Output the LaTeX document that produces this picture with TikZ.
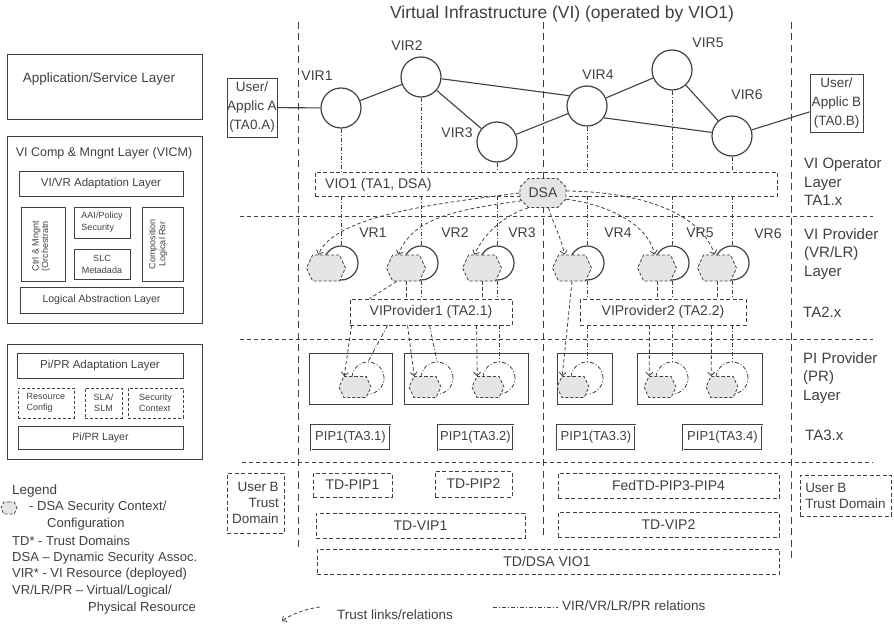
\documentclass[tikz,border=0pt]{standalone}
\usepackage{fontspec}
\setmainfont{Liberation Sans}
\usetikzlibrary{arrows.meta,shapes.misc,shapes.symbols}
\definecolor{ink}{gray}{0.25}
\definecolor{hexfill}{gray}{0.9}
\tikzset{
  every node/.style={text=ink, inner sep=0pt},
  fnt/.style 2 args={font=\fontsize{#1pt}{#2pt}\selectfont},
  box/.style={draw=ink, line width=1pt, align=center},
  dbox/.style={draw=ink, line width=0.9pt, dash pattern=on 4pt off 2.5pt, align=center},
  sdbox/.style={draw=ink, line width=0.9pt, dash pattern=on 3pt off 2pt, align=center},
  pipbox/.style={draw=ink, double=white, double distance=1pt, line width=0.9pt, align=center},
  vsep/.style={draw=ink, line width=0.9pt, dash pattern=on 7pt off 4.5pt},
  hsep/.style={draw=ink, line width=0.9pt, dash pattern=on 4pt off 3pt},
  trust/.style={draw=ink, line width=0.8pt, dash pattern=on 3.5pt off 2.5pt},
  tarr/.style={trust, -{Straight Barb[length=3.5pt,width=7pt]}},
  rel/.style={draw=ink, line width=0.8pt, dash pattern=on 4pt off 2pt on 1pt off 2pt},
  link/.style={draw=ink, line width=1.1pt},
  vir/.style={circle, draw=ink, line width=1.2pt, minimum size=40pt},
  vrc/.style={circle, draw=ink, line width=1.2pt, minimum size=34pt},
  prc/.style={circle, rel, minimum size=32pt},
  hexn/.style={signal, signal to=east and west, signal pointer angle=130, draw=ink, fill=hexfill, line width=0.8pt, dash pattern=on 3pt off 2pt},
  vrhex/.style={hexn, minimum width=39pt, minimum height=26pt},
  prhex/.style={hexn, minimum width=32pt, minimum height=21pt},
  lab/.style={fnt={14}{16}},
  side/.style={fnt={15}{18.5}, align=left, anchor=west},
}
\begin{document}
\begin{tikzpicture}[x=1pt,y=-1pt]
\useasboundingbox (0,0) rectangle (894,626);

% ---------------- left panel ----------------
\node[box, minimum width=195pt, minimum height=64pt] (appl) at (104.5,87) {};
\node[fnt={13.5}{16}] (applt) at (99,79) {Application/Service Layer};

\node[box, minimum width=195pt, minimum height=187pt] (vicm) at (104.5,229.5) {};
\node[fnt={12.5}{15}] (vicmt) at (104,153) {VI Comp \& Mngnt Layer (VICM)};
\node[box, minimum width=164pt, minimum height=25pt, fnt={11.5}{13}] (vivr) at (101,183.5) {VI/VR Adaptation Layer};
\node[box, minimum width=44pt, minimum height=74pt] (ctrl) at (43,244) {};
\node[fnt={9}{9.5}, rotate=90, align=center] (ctrlt) at (41,246) {Ctrl \& Mngnt\\(Orchestratn};
\node[box, minimum width=56pt, minimum height=31pt, fnt={9}{12}, align=left] (aai) at (102,222.5) {AAI/Policy\\Security};
\node[box, minimum width=56pt, minimum height=30pt, fnt={9}{12}] (slc) at (102,264) {SLC\\Metadada};
\node[box, minimum width=41pt, minimum height=74pt] (comp) at (162.5,244) {};
\node[fnt={9}{10}, rotate=90, align=center] (compt) at (158,244) {Composition\\Logical Rsr};
\node[box, minimum width=163pt, minimum height=26pt, fnt={10.5}{12}] (labs) at (101.5,300) {Logical Abstraction Layer};

\node[box, minimum width=195pt, minimum height=115pt] (pipr) at (104.5,401.5) {};
\node[box, minimum width=166pt, minimum height=25pt, fnt={11.5}{13}] (pada) at (100,365.5) {Pi/PR Adaptation Layer};
\node[sdbox, minimum width=56pt, minimum height=30pt, fnt={9}{11}, align=left] (rcfg) at (46,403) {Resource\\Config};
\node[sdbox, minimum width=37pt, minimum height=30pt, fnt={9}{11}] (sla) at (103.5,403) {SLA/\\SLM};
\node[sdbox, minimum width=55pt, minimum height=30pt, fnt={9}{11}, align=left] (secc) at (155.5,403) {Security\\Context};
\node[box, minimum width=165pt, minimum height=23pt, fnt={10.5}{12}] (pipl) at (100.5,437.5) {Pi/PR Layer};

% ---------------- legend ----------------
\node[fnt={13.5}{16}, anchor=west] (leg) at (12,491) {Legend};
\node[hexn, minimum width=16pt, minimum height=12pt] (legico) at (9,508) {};
\node[fnt={13}{16}, anchor=west] (leg1) at (29,507) {- DSA Security Context/};
\node[fnt={13}{16}, anchor=west] (leg2) at (47,524) {Configuration};
\node[fnt={13}{16}, anchor=west] (leg3) at (12,541) {TD* - Trust Domains};
\node[fnt={13}{16}, anchor=west] (leg4) at (12,558) {DSA – Dynamic Security Assoc.};
\node[fnt={13}{16}, anchor=west] (leg5) at (12,574) {VIR* - VI Resource (deployed)};
\node[fnt={13}{16}, anchor=west] (leg6) at (12,591) {VR/LR/PR – Virtual/Logical/};
\node[fnt={13}{16}, anchor=west] (leg7) at (88,608) {Physical Resource};

% ---------------- separators ----------------
\draw[vsep] (298,22) -- (298,548);
\draw[vsep] (543,22) -- (543,535);
\draw[vsep] (791,22) -- (791,558);
\draw[hsep] (240,216) -- (873,216);
\draw[hsep] (240,339) -- (873,339);
\draw[hsep] (242,462) -- (873,462);

\node[fnt={17.5}{20}] (title) at (562,14) {Virtual Infrastructure (VI) (operated by VIO1)};

% ---------------- VIR layer ----------------
\node[vir] (vir1) at (341,108) {};
\node[vir] (vir2) at (421,77) {};
\node[vir] (vir3) at (497,142) {};
\node[vir] (vir4) at (587,106) {};
\node[vir] (vir5) at (672,70) {};
\node[vir] (vir6) at (732,136) {};
\node[lab] (lvir1) at (317,76) {VIR1};
\node[lab] (lvir2) at (407,46) {VIR2};
\node[lab] (lvir3) at (457,133) {VIR3};
\node[lab] (lvir4) at (598,75) {VIR4};
\node[lab] (lvir5) at (708,43) {VIR5};
\node[lab] (lvir6) at (747,95) {VIR6};

\node[box, minimum width=50pt, minimum height=59pt, fnt={13.5}{19}] (ua) at (252,107.5) {User/\\Applic A\\(TA0.A)};
\node[box, minimum width=53pt, minimum height=57pt, fnt={13.5}{19}] (ub) at (836.5,103.5) {User/\\Applic B\\(TA0.B)};

\draw[link] (ua) -- (vir1);
\draw[link] (vir1) -- (vir2);
\draw[link] (vir2) -- (vir3);
\draw[link] (vir2.-5) -- (vir4.150);
\draw[link] (vir3) -- (vir4);
\draw[link] (vir4) -- (vir5);
\draw[link] (vir4.-35) -- (vir6.170);
\draw[link] (vir5) -- (vir6);
\draw[link] (vir6) -- (ub);

% ---------------- VI operator layer ----------------
\node[dbox, minimum width=462pt, minimum height=24pt] (vio1) at (546,184) {};
\node[lab, anchor=west] (vio1t) at (325,185) {VIO1 (TA1, DSA)};

\foreach \i in {1,...,6} {
  \draw[rel] (vir\i.south) -- (vir\i.south |- vio1.north);
}

% ---------------- VR layer ----------------
\node[vrc] (vc1) at (341,263) {};
\node[vrc] (vc2) at (421,263) {};
\node[vrc] (vc3) at (497,263) {};
\node[vrc] (vc4) at (587,263) {};
\node[vrc] (vc5) at (672,263) {};
\node[vrc] (vc6) at (732,263) {};
\node[vrhex] (vh1) at (326,268) {};
\node[vrhex] (vh2) at (406,268) {};
\node[vrhex] (vh3) at (482,268) {};
\node[vrhex] (vh4) at (572,268) {};
\node[vrhex] (vh5) at (657,268) {};
\node[vrhex] (vh6) at (717,268) {};
\node[lab] (lvr1) at (373,233) {VR1};
\node[lab] (lvr2) at (455,233) {VR2};
\node[lab] (lvr3) at (522,233) {VR3};
\node[lab] (lvr4) at (618,233) {VR4};
\node[lab] (lvr5) at (700,233) {VR5};
\node[lab] (lvr6) at (768,234) {VR6};

\foreach \i in {1,...,6} {
  \draw[rel] (vio1.south -| vc\i) -- (vc\i.north);
}

\node[chamfered rectangle, chamfered rectangle xsep=6pt, draw=ink, fill=hexfill, line width=0.8pt, dash pattern=on 3pt off 2pt, minimum width=46pt, minimum height=29pt, lab] (dsa) at (543,193) {DSA};

\draw[tarr] (dsa.west) .. controls (440,203) and (335,215) .. (vh1.120);
\draw[tarr] (dsa.200) .. controls (450,210) and (412,220) .. (vh2.120);
\draw[tarr] (dsa.225) .. controls (505,215) and (485,232) .. (vh3.120);
\draw[tarr] (dsa.-70) .. controls (554,225) and (562,240) .. (vh4.120);
\draw[tarr] (dsa.-15) .. controls (610,205) and (648,225) .. (vh5.100);
\draw[tarr] (dsa.5) .. controls (640,192) and (700,212) .. (vh6.100);

% ---------------- VI providers ----------------
\node[dbox, minimum width=162pt, minimum height=26pt, lab] (vp1) at (431,312) {VIProvider1 (TA2.1)};
\node[dbox, minimum width=166pt, minimum height=26pt, lab] (vp2) at (663,312) {VIProvider2 (TA2.2)};

\draw[trust] (vh2.235) -- ([xshift=20pt]vp1.north west);
\draw[trust] (vh2.south) -- (vh2.south |- vp1.north);
\draw[rel] (vc2.south) -- (vc2.south |- vp1.north);
\draw[trust] (vh3.south) -- (vh3.south |- vp1.north);
\draw[rel] (vc3.south) -- (vc3.south |- vp1.north);
\draw[rel] (vc4.south) -- (vc4.south |- vp2.north);
\draw[trust] (vh5.south) -- (vh5.south |- vp2.north);
\draw[rel] (vc5.south) -- (vc5.south |- vp2.north);
\draw[trust] (vh6.south) -- (vh6.south |- vp2.north);
\draw[rel] (vc6.south) -- (vc6.south |- vp2.north);

% ---------------- PR layer ----------------
\node[box, minimum width=83pt, minimum height=51pt] (pb1) at (350.5,378.5) {};
\node[box, minimum width=124pt, minimum height=51pt] (pb2) at (466,378.5) {};
\node[box, minimum width=55pt, minimum height=51pt] (pb3) at (584.5,378.5) {};
\node[box, minimum width=125pt, minimum height=51pt] (pb4) at (699.5,378.5) {};

\node[prc] (pc1) at (368,378) {};
\node[prc] (pc2) at (437,378) {};
\node[prc] (pc3) at (499,378) {};
\node[prc] (pc4) at (587,378) {};
\node[prc] (pc5) at (672,378) {};
\node[prc] (pc6) at (732,378) {};
\node[prhex] (ph1) at (355,387) {};
\node[prhex] (ph2) at (425,387) {};
\node[prhex] (ph3) at (488,387) {};
\node[prhex] (ph4) at (573,387) {};
\node[prhex] (ph5) at (660,387) {};
\node[prhex] (ph6) at (722,387) {};

\draw[tarr] ([xshift=2pt]vp1.south west) -- (ph1.135);
\draw[rel] ([xshift=38pt]vp1.south west) -- (pc1.north);
\draw[tarr] ([xshift=58pt]vp1.south west) -- (ph2.135);
\draw[rel] ([xshift=80pt]vp1.south west) -- (pc2.north);
\draw[tarr] ([xshift=127pt]vp1.south west) -- (ph3.135);
\draw[rel] (vp1.south -| pc3) -- (pc3.north);

\draw[tarr] (vh4.south) -- (ph4.135);
\draw[rel] (vp2.south -| pc4) -- (pc4.north);
\draw[tarr] ([xshift=70pt]vp2.south west) -- (ph5.135);
\draw[rel] (vp2.south -| pc5) -- (pc5.north);
\draw[tarr] ([xshift=132pt]vp2.south west) -- (ph6.135);
\draw[rel] (vp2.south -| pc6) -- (pc6.north);

% ---------------- PIPs ----------------
\node[pipbox, minimum width=79pt, minimum height=25pt, fnt={13}{15}] (pip1) at (350.5,437.5) {PIP1(TA3.1)};
\node[pipbox, minimum width=75pt, minimum height=25pt, fnt={13}{15}] (pip2) at (475.5,437.5) {PIP1(TA3.2)};
\node[pipbox, minimum width=78pt, minimum height=25pt, fnt={13}{15}] (pip3) at (596,437.5) {PIP1(TA3.3)};
\node[pipbox, minimum width=79pt, minimum height=25pt, fnt={13}{15}] (pip4) at (722.5,437.5) {PIP1(TA3.4)};

% ---------------- trust domains ----------------
\node[dbox, minimum width=57pt, minimum height=60pt, fnt={13.5}{16}, align=right] (ubl) at (255.5,503) {User B\\Trust\\Domain};
\node[dbox, minimum width=79pt, minimum height=24pt, lab] (tdp1) at (352.5,485) {TD-PIP1};
\node[dbox, minimum width=77pt, minimum height=26pt, lab] (tdp2) at (473.5,484) {TD-PIP2};
\node[dbox, minimum width=209pt, minimum height=25pt, lab] (tdv1) at (420.5,525.5) {TD-VIP1};
\node[dbox, minimum width=462pt, minimum height=25pt] (tdv) at (548,561.5) {};
\node[lab] (tdvt) at (547,561) {TD/DSA VIO1};
\node[dbox, minimum width=221pt, minimum height=25pt, lab] (fed) at (668.5,485.5) {FedTD-PIP3-PIP4};
\node[dbox, minimum width=221pt, minimum height=25pt, lab] (tdv2) at (668.5,524.5) {TD-VIP2};
\node[dbox, minimum width=91pt, minimum height=41pt, fnt={13.5}{16}, align=left] (ubr) at (845.5,495.5) {User B\\Trust Domain};

% ---------------- side labels ----------------
\node[side] (s1) at (804,182) {VI Operator\\Layer\\TA1.x};
\node[side] (s2) at (804,254) {VI Provider\\(VR/LR)\\Layer};
\node[side] (s3) at (803,312) {TA2.x};
\node[side] (s4) at (803,378) {PI Provider\\(PR)\\Layer};
\node[side] (s5) at (805,435) {TA3.x};

% ---------------- bottom legend ----------------
\coordinate (tlA) at (320,607);
\coordinate (tlB) at (282,621);
\draw[tarr] (tlA) .. controls (305,609) and (292,614) .. (tlB);
\node[fnt={13.5}{16}, anchor=west] (tlt) at (337,615) {Trust links/relations};
\coordinate (rlA) at (493,607);
\coordinate (rlB) at (558,607);
\draw[rel] (rlA) -- (rlB);
\node[fnt={13.5}{16}, anchor=west] (rlt) at (562,606) {VIR/VR/LR/PR relations};
\end{tikzpicture}
\end{document}
